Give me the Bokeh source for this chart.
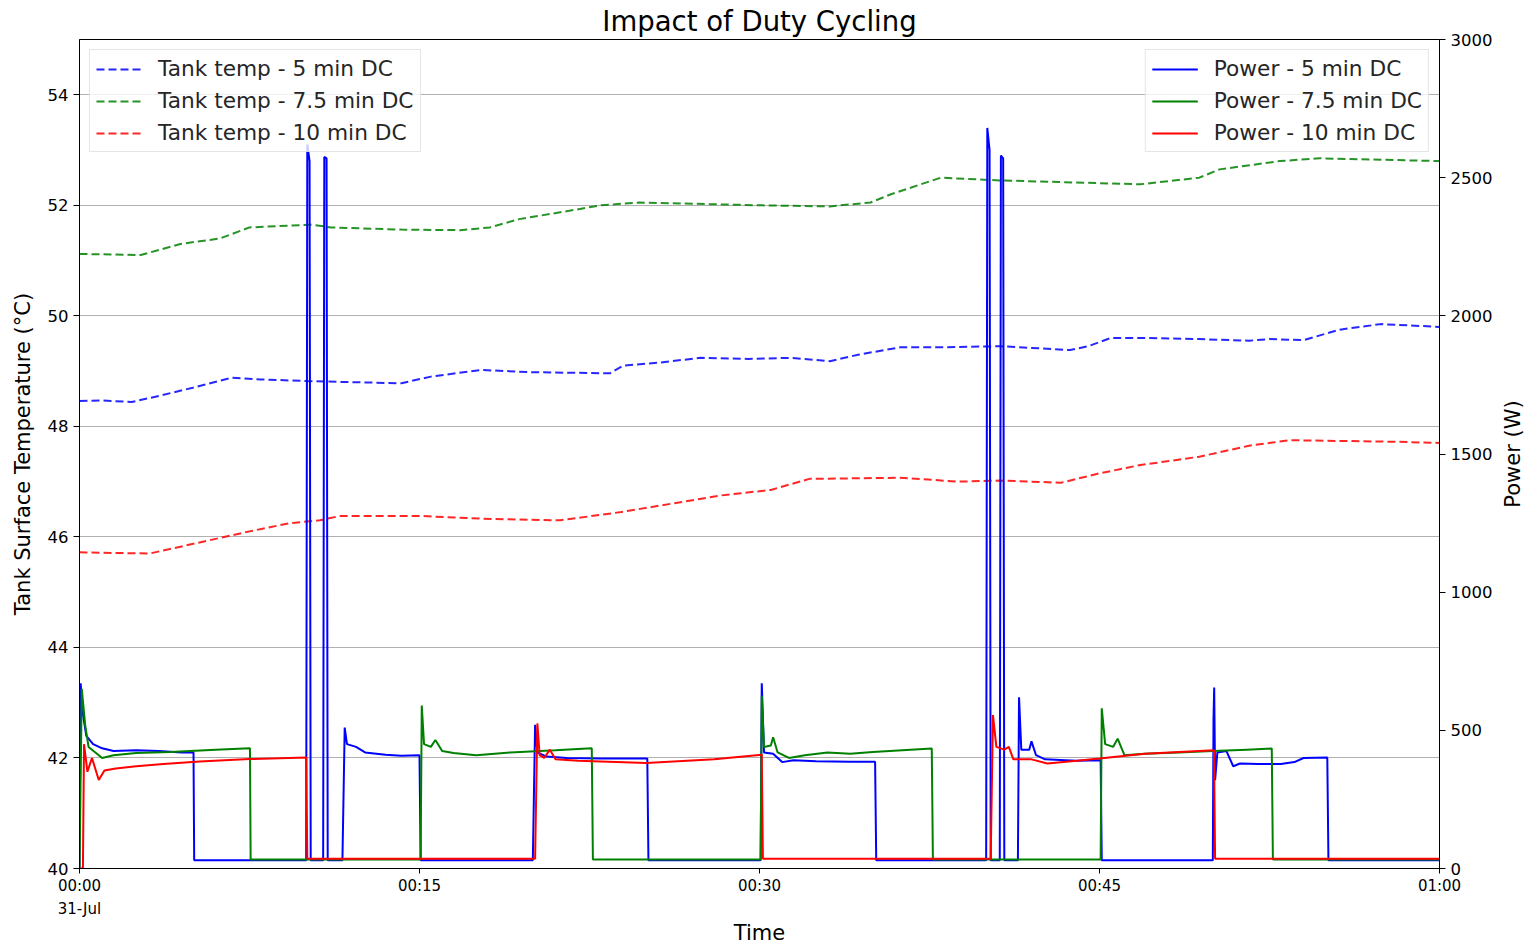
from bokeh.plotting import figure
from bokeh.layouts import row
from bokeh.models import Range1d, LinearAxis, FixedTicker, Legend, LegendItem, Title
from bokeh.embed import file_html
from bokeh.resources import INLINE

# ---------------- data (time in minutes after 00:00, 31-Jul) ----------------
temp5_t = [0, 1, 2.3, 3.5, 5, 6.7, 8, 10, 12, 14.2, 15.5, 17.7, 20, 23.4, 24, 25.5, 27.4,
           29.5, 31.4, 33.1, 34.4, 36.2, 38, 40.6, 42, 43.7, 44.5, 45.5, 47, 49.4, 51.6,
           52.5, 54, 55.6, 57.4, 60]
temp5 = [48.46, 48.47, 48.44, 48.55, 48.7, 48.88, 48.85, 48.82, 48.8, 48.78, 48.9, 49.02,
         48.98, 48.96, 49.1, 49.15, 49.24, 49.22, 49.24, 49.18, 49.3, 49.43, 49.43, 49.45,
         49.42, 49.38, 49.45, 49.6, 49.6, 49.58, 49.55, 49.58, 49.56, 49.75, 49.85, 49.8]

temp75_t = [0, 2.7, 4.45, 6.2, 7.5, 10.2, 11.1, 14.2, 16.8, 18.1, 19.4, 21.6, 23, 24.7, 30,
            33.1, 34.9, 35.8, 38, 40.6, 43.3, 46.8, 49.4, 50.3, 52.95, 54.7, 60]
temp75 = [51.12, 51.1, 51.3, 51.4, 51.6, 51.65, 51.6, 51.56, 51.55, 51.6, 51.75, 51.9, 52.0,
          52.05, 52.0, 51.98, 52.05, 52.2, 52.5, 52.45, 52.42, 52.38, 52.5, 52.65, 52.8,
          52.85, 52.8]

temp10_t = [0, 3.1, 5.3, 7.5, 9.3, 10.6, 11.5, 15, 17.7, 21.2, 23.9, 26.1, 28.3, 30.5, 32.2,
            36.2, 38.8, 40.6, 43.3, 45, 46.8, 49.4, 51.6, 53.4, 58.2, 60]
temp10 = [45.72, 45.7, 45.9, 46.1, 46.25, 46.3, 46.38, 46.38, 46.33, 46.3, 46.45, 46.6, 46.75,
          46.85, 47.05, 47.07, 47.0, 47.02, 46.98, 47.15, 47.3, 47.45, 47.65, 47.75, 47.72,
          47.7]

pow5_t = [0.0, 0.05, 0.15, 0.3, 0.6, 1.0, 1.5, 2.5, 3.5, 4.5, 5.03, 5.06,
          10.0, 10.05, 10.15, 10.2, 10.75, 10.8, 10.9, 10.95,
          11.6, 11.7, 11.8, 12.2, 12.6, 13.5, 14.2, 15.0, 15.05,
          20.0, 20.1, 20.2, 20.6, 21.5, 23.0, 25.05, 25.1,
          30.05, 30.1, 30.2, 30.6, 31.0, 31.5, 32.5, 34.0, 35.1, 35.15,
          40.0, 40.05, 40.15, 40.2, 40.6, 40.65, 40.75, 40.8,
          41.4, 41.45, 41.55, 41.9, 42.0, 42.2, 42.6, 43.5, 44.0, 45.05, 45.1,
          50.0, 50.03, 50.06, 50.1, 50.2, 50.6, 50.9, 51.2, 52.0, 53.0, 53.6, 54.0, 55.05, 55.1,
          60.0]
pow5 = [0, 670, 560, 480, 450, 435, 425, 428, 425, 420, 420, 30,
        30, 2620, 2560, 30, 30, 2575, 2570, 30,
        30, 510, 450, 440, 420, 412, 408, 410, 30,
        30, 520, 420, 405, 400, 398, 398, 30,
        30, 670, 420, 415, 385, 392, 388, 386, 386, 30,
        30, 2680, 2600, 30, 30, 2580, 2570, 30,
        30, 620, 430, 430, 460, 410, 395, 392, 390, 392, 30,
        30, 540, 655, 320, 420, 425, 370, 380, 378, 378, 385, 400, 402, 30,
        30]

pow75_t = [0.0, 0.1, 0.25, 0.4, 0.7, 1.0, 1.5, 2.5, 4.0, 6.0, 7.52, 7.55,
           15.05, 15.1, 15.2, 15.5, 15.7, 16.0, 16.5, 17.5, 19.0, 21.0, 22.6, 22.65,
           30.05, 30.1, 30.2, 30.5, 30.6, 30.8, 31.3, 32.0, 33.0, 34.0, 35.0, 37.6, 37.65,
           45.05, 45.1, 45.25, 45.6, 45.8, 46.1, 47.0, 48.5, 50.0, 51.5, 52.6, 52.65,
           60.0]
pow75 = [0, 650, 520, 440, 420, 400, 410, 418, 422, 430, 435, 33,
         33, 590, 450, 440, 465, 425, 418, 410, 420, 428, 435, 33,
         33, 625, 440, 445, 475, 420, 400, 410, 420, 415, 422, 434, 33,
         33, 580, 450, 440, 470, 410, 415, 420, 425, 430, 434, 33,
         33]

pow10_t = [0.0, 0.15, 0.2, 0.35, 0.55, 0.85, 1.1, 1.6, 2.5, 3.7, 5.3, 7.5, 10.0, 10.05,
           20.1, 20.2, 20.3, 20.5, 20.75, 21.0, 22.0, 25.0, 28.0, 30.1, 30.15,
           40.2, 40.3, 40.45, 40.8, 41.0, 41.2, 42.0, 42.7, 44.0, 45.0, 47.0, 50.05, 50.1,
           60.0]
pow10 = [0, 0, 450, 350, 400, 320, 355, 362, 370, 378, 387, 396, 402, 35,
         35, 525, 410, 400, 430, 395, 390, 382, 395, 412, 35,
         35, 555, 440, 430, 440, 395, 395, 380, 390, 398, 415, 428, 35,
         35]

temp_ticks = [40, 42, 44, 46, 48, 50, 52, 54]
power_ticks = [0, 500, 1000, 1500, 2000, 2500, 3000]
time_ticks = [0, 15, 30, 45, 60]
time_labels = ["00:00\n31-Jul", "00:15", "00:30", "00:45", "01:00"]

BLUE, GREEN, RED = "#0000ff", "#008000", "#ff0000"
FONT = "DejaVu Sans"

# ---------------- main figure ----------------
p = figure(width=1495, height=947, output_backend="svg", toolbar_location=None,
           x_range=Range1d(0, 60), y_range=Range1d(40, 55),
           min_border_left=79, min_border_right=55, min_border_top=39, min_border_bottom=79,
           title="Impact of Duty Cycling")
p.extra_y_ranges = {"power": Range1d(0, 3000)}

p.title.align = "center"
p.title.text_font = FONT
p.title.text_font_size = "27.5px"
p.title.text_font_style = "normal"
p.title.text_color = "black"
p.title.standoff = 5
p.title.offset = 16

p.outline_line_color = "black"
p.outline_line_width = 1
p.outline_line_alpha = 1
p.background_fill_color = "white"
p.border_fill_color = "white"

p.xgrid.visible = False
p.ygrid.ticker = FixedTicker(ticks=temp_ticks)
p.ygrid.grid_line_color = "#b0b0b0"
p.ygrid.grid_line_width = 1

ly = p.yaxis[0]
ly.ticker = FixedTicker(ticks=temp_ticks)
ly.axis_label = "Tank Surface Temperature (°C)"

bx = p.xaxis[0]
bx.ticker = FixedTicker(ticks=time_ticks)
bx.major_label_overrides = dict(zip(time_ticks, time_labels))
bx.axis_label = "Time"

ry = LinearAxis(y_range_name="power", ticker=FixedTicker(ticks=power_ticks))
p.add_layout(ry, "right")

for ax in (ly, bx, ry):
    ax.axis_line_color = "black"
    ax.major_tick_line_color = "black"
    ax.minor_tick_line_color = None
    ax.major_tick_out = 6
    ax.major_tick_in = 0
    ax.major_label_text_font = FONT
    ax.major_label_text_font_size = "16.5px"
    ax.major_label_text_color = "black"
    ax.axis_label_text_font = FONT
    ax.axis_label_text_font_size = "21px"
    ax.axis_label_text_font_style = "normal"
    ax.axis_label_text_color = "black"
    ax.major_label_standoff = 5
bx.major_tick_out = 5
bx.major_label_text_font_size = "15px"
bx.major_label_text_line_height = 1.3
bx.major_label_standoff = 3
bx.axis_label_standoff = 0
ly.axis_label_standoff = 10

# ---------------- glyphs ----------------
dash = "8 4"
rt5 = p.line(temp5_t, temp5, color=BLUE, line_width=2, line_dash=dash, alpha=0.85)
rt75 = p.line(temp75_t, temp75, color=GREEN, line_width=2, line_dash=dash, alpha=0.85)
rt10 = p.line(temp10_t, temp10, color=RED, line_width=2, line_dash=dash, alpha=0.85)

rp5 = p.line(pow5_t, pow5, color=BLUE, line_width=2, y_range_name="power")
rp75 = p.line(pow75_t, pow75, color=GREEN, line_width=2, y_range_name="power")
rp10 = p.line(pow10_t, pow10, color=RED, line_width=2, y_range_name="power")


def make_legend(items, loc):
    return Legend(items=items, location=loc, margin=10, padding=6, spacing=7,
                  glyph_width=46, glyph_height=22, label_height=22, label_standoff=16,
                  label_text_font=FONT, label_text_font_size="21.7px",
                  label_text_color="#262626",
                  border_line_color="#cccccc", border_line_width=1,
                  background_fill_color="white", background_fill_alpha=0.8)


lg1 = make_legend([LegendItem(label="Tank temp - 5 min DC", renderers=[rt5]),
                   LegendItem(label="Tank temp - 7.5 min DC", renderers=[rt75]),
                   LegendItem(label="Tank temp - 10 min DC", renderers=[rt10])], "top_left")
lg2 = make_legend([LegendItem(label="Power - 5 min DC", renderers=[rp5]),
                   LegendItem(label="Power - 7.5 min DC", renderers=[rp75]),
                   LegendItem(label="Power - 10 min DC", renderers=[rp10])], "top_right")
p.add_layout(lg1, "center")
p.add_layout(lg2, "center")

# ---------------- right axis title (reads bottom-to-top) ----------------
side = figure(width=33, height=947, output_backend="svg", toolbar_location=None,
              x_range=Range1d(0, 1), y_range=Range1d(0, 1),
              x_axis_location=None, y_axis_location=None,
              min_border_left=29, min_border_right=0, min_border_top=39, min_border_bottom=79)
side.outline_line_color = None
side.grid.visible = False
side.background_fill_color = "white"
side.border_fill_color = "white"
side.add_layout(Title(text="Power (W)", align="center", text_font=FONT, text_font_size="21px",
                      text_font_style="normal", text_color="black", standoff=0, offset=0),
                "left")

layout = row(p, side, spacing=0)
open("out.html", "w").write(file_html(layout, INLINE))
